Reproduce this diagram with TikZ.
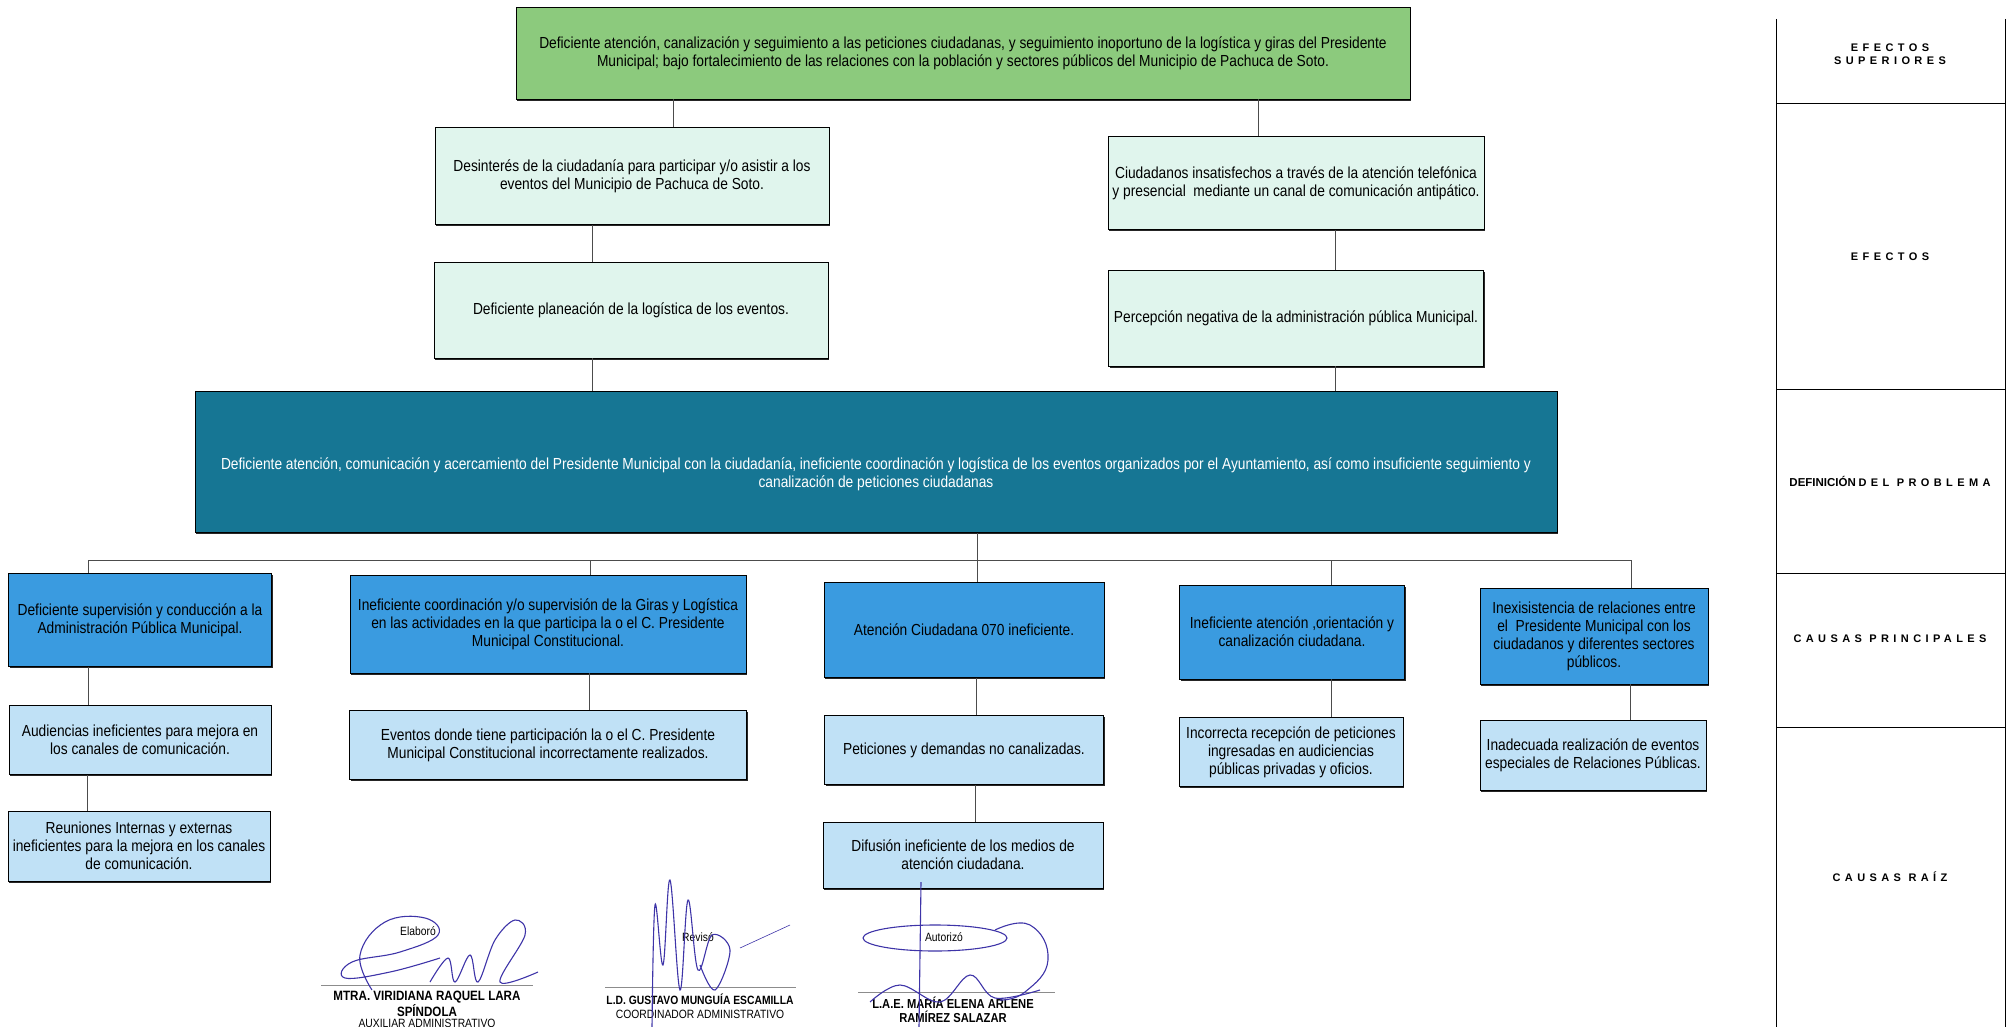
\documentclass[tikz,border=0pt]{standalone}
\usepackage{fontspec}
\setmainfont{Liberation Sans}[FakeStretch=0.86]
\newfontfamily\leyenda{Liberation Sans}[LetterSpace=40]
\newfontfamily\ancho{Liberation Sans}
\usetikzlibrary{shadows}

\definecolor{verdeef}{RGB}{140,202,125}
\definecolor{menta}{RGB}{224,245,237}
\definecolor{petroleo}{RGB}{22,118,148}
\definecolor{azulcausa}{RGB}{58,155,224}
\definecolor{celeste}{RGB}{192,225,246}
\definecolor{tinta}{RGB}{62,52,168}

\begin{document}
\begin{tikzpicture}[x=1pt, y=-1pt,
    caja/.style={rectangle, draw, line width=0.8pt, align=center, inner sep=2pt,
        font=\fontsize{16}{18}\selectfont,
        drop shadow={shadow xshift=1.2pt, shadow yshift=-1.8pt, fill=black!85, opacity=1}},
    efsup/.style={caja, fill=verdeef},
    efecto/.style={caja, fill=menta},
    problema/.style={caja, fill=petroleo},
    causa/.style={caja, fill=azulcausa},
    raiz/.style={caja, fill=celeste},
    linea/.style={draw=black!70, line width=0.9pt},
    etiqueta/.style={align=center, font=\fontsize{11}{13}\selectfont\bfseries},
    firma/.style={align=center, font=\fontsize{12}{14}\selectfont},
    nombre/.style={align=center, anchor=north, inner sep=0pt},
    tinta/.style={draw=tinta, line width=1.1pt}
]
\useasboundingbox (0,0) rectangle (2013,1027);
\clip (0,0) rectangle (2013,1027);

% efectos superiores y efectos
\node[efsup, minimum width=894, minimum height=92] (top) at (963,53)
  {Deficiente atención, canalización y seguimiento a las peticiones ciudadanas, y seguimiento inoportuno de la logística y giras del Presidente\\
   Municipal; bajo fortalecimiento de las relaciones con la población y sectores públicos del Municipio de Pachuca de Soto.};
\node[efecto, minimum width=394, minimum height=97] (ef1) at (632,176)
  {Desinterés de la ciudadanía para participar y/o asistir a los\\ eventos del Municipio de Pachuca de Soto.};
\node[efecto, minimum width=376, minimum height=93] (ef2) at (1296,183)
  {Ciudadanos insatisfechos a través de la atención telefónica\\ y presencial\ \ mediante un canal de comunicación antipático.};
\node[efecto, minimum width=394, minimum height=96] (ef3) at (631,310)
  {Deficiente planeación de la logística de los eventos.};
\node[efecto, minimum width=375, minimum height=96] (ef4) at (1296,318)
  {Percepción negativa de la administración pública Municipal.};

% problema
\node[problema, minimum width=1362, minimum height=141] (prob) at (876,462) {};
\node[align=center, text=white, font=\fontsize{16}{18}\selectfont] (probtxt) at (876,474)
  {Deficiente atención, comunicación y acercamiento del Presidente Municipal con la ciudadanía, ineficiente coordinación y logística de los eventos organizados por el Ayuntamiento, así como insuficiente seguimiento y\\
   canalización de peticiones ciudadanas};

% causas principales
\node[causa, minimum width=263, minimum height=93] (c1) at (140,620)
  {Deficiente supervisión y conducción a la\\ Administración Pública Municipal.};
\node[causa, minimum width=396, minimum height=98] (c2) at (548,624)
  {Ineficiente coordinación y/o supervisión de la Giras y Logística\\ en las actividades en la que participa la o el C. Presidente\\ Municipal Constitucional.};
\node[causa, minimum width=280, minimum height=95] (c3) at (964,630)
  {Atención Ciudadana 070 ineficiente.};
\node[causa, minimum width=225, minimum height=94] (c4) at (1292,632)
  {Ineficiente atención ,orientación y\\ canalización ciudadana.};
\node[causa, minimum width=228, minimum height=96] (c5) at (1594,636)
  {Inexisistencia de relaciones entre\\ el\ \ Presidente Municipal con los\\ ciudadanos y diferentes sectores\\ públicos.};

% causas raiz
\node[raiz, minimum width=262, minimum height=69] (r1a) at (140,740)
  {Audiencias ineficientes para mejora en\\ los canales de comunicación.};
\node[raiz, minimum width=262, minimum height=70] (r1b) at (139,846)
  {Reuniones Internas y externas\\ ineficientes para la mejora en los canales\\ de comunicación.};
\node[raiz, minimum width=397, minimum height=69] (r2a) at (548,745)
  {Eventos donde tiene participación la o el C. Presidente\\ Municipal Constitucional incorrectamente realizados.};
\node[raiz, minimum width=279, minimum height=69] (r3a) at (964,750)
  {Peticiones y demandas no canalizadas.};
\node[raiz, minimum width=280, minimum height=66] (r3b) at (963,855)
  {Difusión ineficiente de los medios de\\ atención ciudadana.};
\node[raiz, minimum width=224, minimum height=69] (r4a) at (1291,752)
  {Incorrecta recepción de peticiones\\ ingresadas en audiciencias\\ públicas privadas y oficios.};
\node[raiz, minimum width=226, minimum height=70] (r5a) at (1593,755)
  {Inadecuada realización de eventos\\ especiales de Relaciones Públicas.};

% lineas de union
\coordinate (bus) at (0,560);
\draw[linea] (top.south -| 673,0) -- (ef1.north -| 673,0);
\draw[linea] (top.south -| 1258,0) -- (ef2.north -| 1258,0);
\draw[linea] (ef1.south -| 592,0) -- (ef3.north -| 592,0);
\draw[linea] (ef2.south -| 1335,0) -- (ef4.north -| 1335,0);
\draw[linea] (ef3.south -| 592,0) -- (prob.north -| 592,0);
\draw[linea] (ef4.south -| 1335,0) -- (prob.north -| 1335,0);
\draw[linea] (prob.south -| 977,0) -- (c3.north -| 977,0);
\draw[linea] (c1.north -| 88,0) |- (bus -| 1631,0) -- (c5.north -| 1631,0);
\draw[linea] (bus -| 590,0) -- (c2.north -| 590,0);
\draw[linea] (bus -| 1331,0) -- (c4.north -| 1331,0);
\draw[linea] (c1.south -| 88,0) -- (r1a.north -| 88,0);
\draw[linea] (r1a.south -| 87,0) -- (r1b.north -| 87,0);
\draw[linea] (c2.south -| 589,0) -- (r2a.north -| 589,0);
\draw[linea] (c3.south -| 976,0) -- (r3a.north -| 976,0);
\draw[linea] (r3a.south -| 975,0) -- (r3b.north -| 975,0);
\draw[linea] (c4.south -| 1331,0) -- (r4a.north -| 1331,0);
\draw[linea] (c5.south -| 1630,0) -- (r5a.north -| 1630,0);

% columna de niveles
\draw[line width=1pt] (1776,19) -- (1776,1027);
\draw[line width=1pt] (2005,19) -- (2005,1027);
\foreach \y in {103,389,573,727}
  \draw[line width=0.9pt] (1776,\y) -- (2005,\y);
\node[etiqueta] (n1) at (1890,54) {\leyenda EFECTOS\\ \leyenda SUPERIORES};
\node[etiqueta] (n2) at (1890,257) {\leyenda EFECTOS};
\node[etiqueta] (n3) at (1890,481) {{\ancho\fontsize{11.5}{13}\selectfont DEFINICIÓN} {\leyenda DEL PROBLEMA}};
\node[etiqueta] (n4) at (1890,639) {\leyenda CAUSAS PRINCIPALES};
\node[etiqueta] (n5) at (1890,877) {\leyenda CAUSAS RAÍZ};

% firmas
\node[firma] (e1) at (418,931) {Elaboró};
\node[firma] (e2) at (698,937) {Revisó};
\node[firma] (e3) at (944,937) {Autorizó};
\draw[draw=black!45, line width=0.9pt] (321,985) -- (533,985);
\draw[draw=black!45, line width=0.9pt] (605,987) -- (796,987);
\draw[draw=black!45, line width=0.9pt] (858,992) -- (1055,992);
\node[nombre, font=\fontsize{13.5}{11.5}\selectfont\bfseries] (f1) at (427,991)
  {MTRA. VIRIDIANA RAQUEL LARA\\ SPÍNDOLA\\ \mdseries\fontsize{12}{11.5}\selectfont AUXILIAR ADMINISTRATIVO};
\node[nombre, font=\fontsize{12}{13.5}\selectfont\bfseries] (f2) at (700,994)
  {L.D. GUSTAVO MUNGUÍA ESCAMILLA\\ \mdseries COORDINADOR ADMINISTRATIVO};
\node[nombre, font=\fontsize{13}{13.5}\selectfont\bfseries] (f3) at (953,997)
  {L.A.E. MARÍA ELENA ARLENE\\ RAMÍREZ SALAZAR};

% trazos de las firmas
\draw[tinta] plot[smooth, tension=0.7] coordinates {(372,990) (360,955) (385,922) (425,918) (438,935) (400,952) (352,962) (345,978) (390,972) (440,958)};
\draw[tinta] plot[smooth, tension=0.6] coordinates {(430,982) (448,958) (455,982) (470,955) (478,982) (495,940) (515,920) (525,935) (500,982) (538,972)};
\draw[tinta] plot[smooth, tension=0.6] coordinates {(652,1027) (655,905) (663,965) (670,880) (680,990) (688,900) (698,970) (712,935) (730,950) (715,990) (700,965)};
\draw[tinta, line width=0.6pt] (740,948) -- (790,925);
\draw[tinta] (935,938) ellipse [x radius=72, y radius=13];
\draw[tinta] (921,882) -- (919,1027);
\draw[tinta] plot[smooth, tension=0.6] coordinates {(870,1002) (900,985) (940,1002) (970,975) (995,998) (1040,990)};
\draw[tinta] plot[smooth, tension=0.8] coordinates {(995,930) (1030,925) (1048,960) (1025,992) (1000,1000)};
\end{tikzpicture}
\end{document}
